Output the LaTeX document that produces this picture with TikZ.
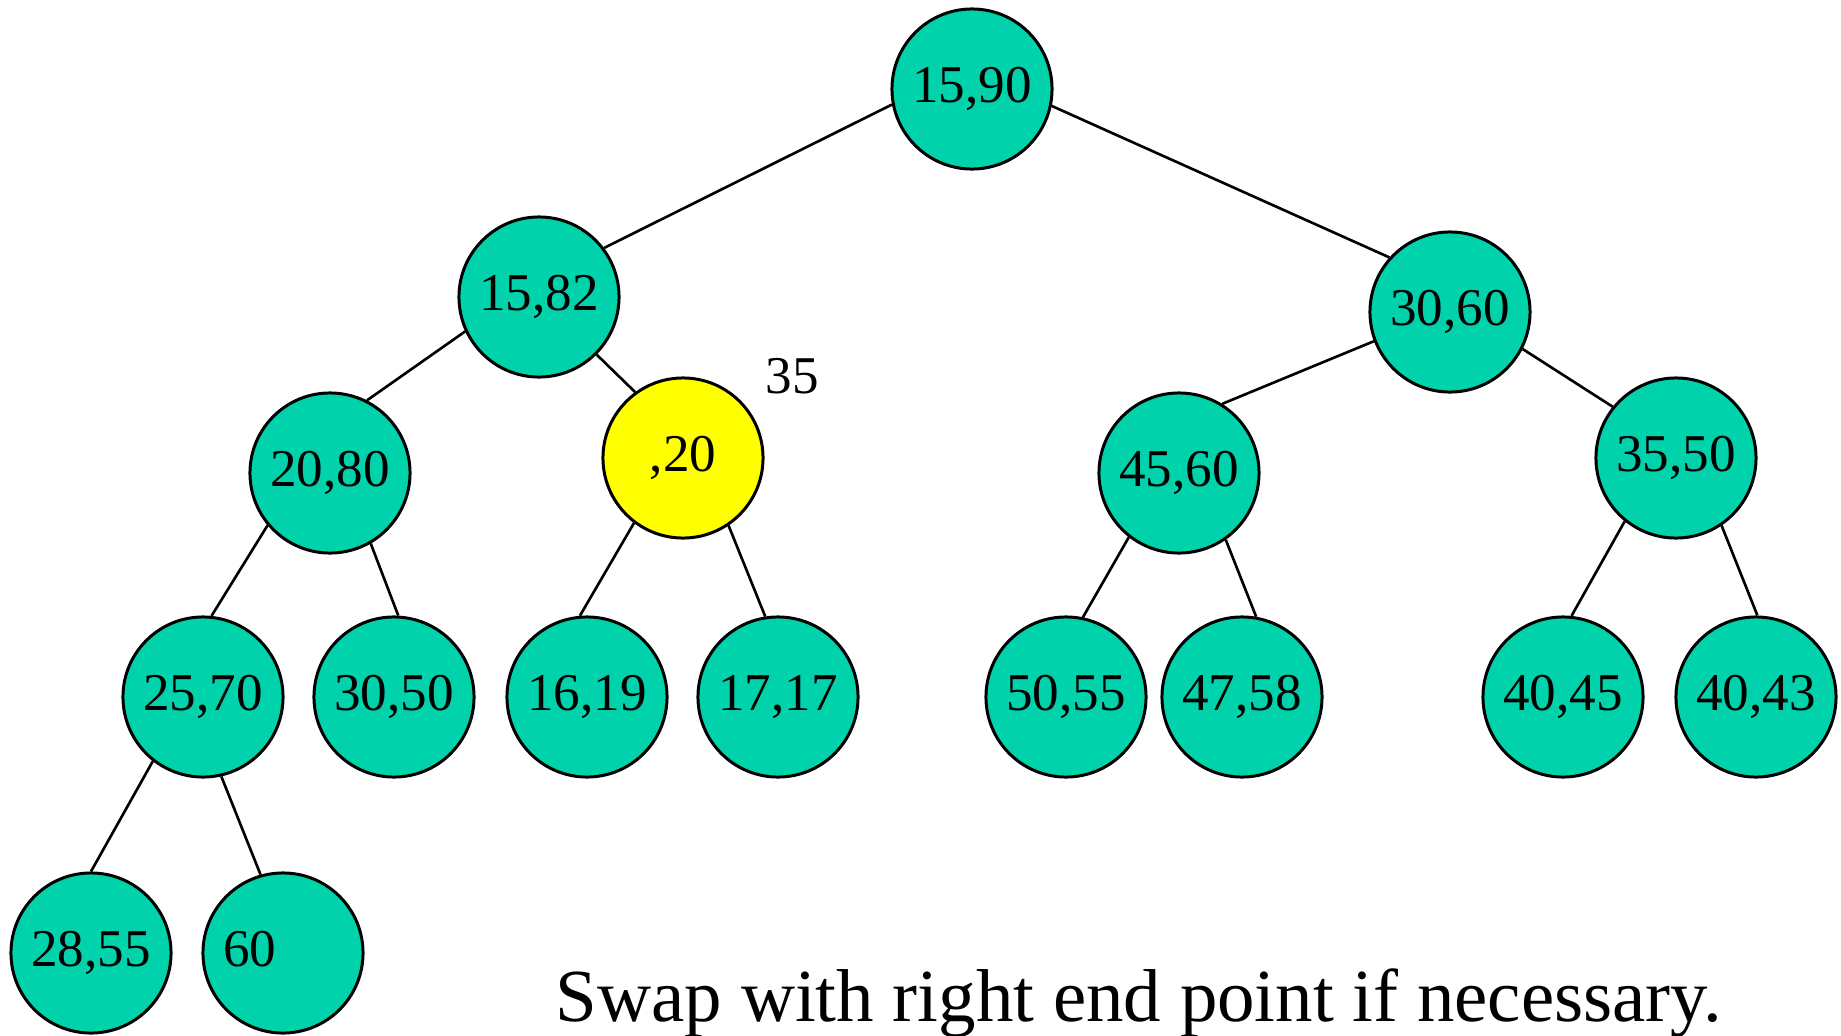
\documentclass[tikz,border=0pt]{standalone}
\usepackage{fontspec}
\setmainfont{Liberation Serif}
\definecolor{heapgreen}{RGB}{0,211,172}
\definecolor{heapyellow}{RGB}{255,255,0}

\begin{document}
\begin{tikzpicture}[x=0.01cm,y=-0.01cm,
    key/.style={circle,draw,line width=0.85pt,fill=heapgreen,minimum size=1.6cm,inner sep=0pt,
      font=\fontsize{15.1pt}{18pt}\selectfont},
    hot/.style={key,fill=heapyellow},
    link/.style={line width=0.75pt}]
    \useasboundingbox (0,0) rectangle (1841,1036);
    \node[key] (a) at (972,89) {15,90};
    \node[key] (b) at (539,297) {15,82};
    \node[key] (c) at (1450,312) {30,60};
    \node[key] (d) at (330,473) {20,80};
    \node[hot] (e) at (683,458) {,20};
    \node[key] (f) at (1179,473) {45,60};
    \node[key] (g) at (1676,458) {35,50};
    \node[key] (h) at (203,697) {25,70};
    \node[key] (i) at (394,697) {30,50};
    \node[key] (j) at (587,697) {16,19};
    \node[key] (k) at (778,697) {17,17};
    \node[key] (l) at (1066,697) {50,55};
    \node[key] (m) at (1242,697) {47,58};
    \node[key] (n) at (1563,697) {40,45};
    \node[key] (o) at (1756,697) {40,43};
    \node[key] (p) at (91,953) {28,55};
    \node[key] (q) at (283,953) {60\phantom{,55}};
    % links are hooked to fixed points of the rims
    \draw[link] (a.191) -- (b.37);
    \draw[link] (a.-12) -- (c.138);
    \draw[link] (b.205) -- (d.63);
    \draw[link] (b.-45) -- (e.126);
    \draw[link] (c.201) -- (f.58);
    \draw[link] (c.-27) -- (g.141);
    \draw[link] (d.220) -- (h.84);
    \draw[link] (d.-60) -- (i.87);
    \draw[link] (e.233) -- (j.95);
    \draw[link] (e.-56) -- (k.99);
    \draw[link] (f.232) -- (l.78);
    \draw[link] (f.-55) -- (m.80);
    \draw[link] (g.231) -- (n.84);
    \draw[link] (g.-56) -- (o.89);
    \draw[link] (h.232) -- (p.90);
    \draw[link] (h.-77) -- (q.106);
    \node[font=\fontsize{15.1pt}{18pt}\selectfont] (lbl) at (792,376) {35};
    \node[anchor=base,font=\fontsize{21.3pt}{26pt}\selectfont] (note) at (1139,1021) {Swap with right end point if necessary.};
\end{tikzpicture}
\end{document}
